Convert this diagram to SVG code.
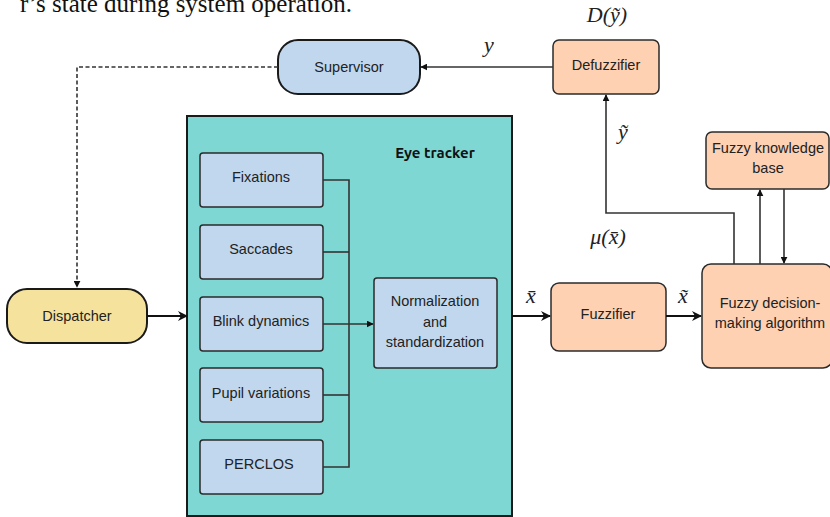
<svg xmlns="http://www.w3.org/2000/svg" width="830" height="517" viewBox="0 0 830 517">
  <defs>
    <marker id="arrow" viewBox="0 0 10 10" refX="9" refY="5" markerWidth="7" markerHeight="7" markerUnits="userSpaceOnUse" orient="auto">
      <path d="M0,0 L10,5 L0,10 Z" fill="#111"/>
    </marker>
    <marker id="arrowBig" viewBox="0 0 10 10" refX="9" refY="5" markerWidth="10" markerHeight="10" markerUnits="userSpaceOnUse" orient="auto">
      <path d="M0,0 L10,5 L0,10 L3,5 Z" fill="#111"/>
    </marker>
  </defs>
  <style>
    .lbl { font-family: "Liberation Sans", Arial, sans-serif; font-size: 14.5px; fill: #222; text-anchor: middle; }
    .math { font-family: "Liberation Serif", "Times New Roman", serif; font-style: italic; font-size: 22px; fill: #222; text-anchor: middle; }
    .blue { fill: #c1d7ee; stroke: #2b2b2b; stroke-width: 1.5; }
    .peach { fill: #fdd1b2; stroke: #2b2b2b; stroke-width: 1.5; }
    .yellow { fill: #f5e29c; stroke: #1a1a1a; stroke-width: 2; }
    .term { fill: #c1d7ee; stroke: #1a1a1a; stroke-width: 2; }
    .wire { fill: none; stroke: #333; stroke-width: 1.6; }
    .thick { fill: none; stroke: #111; stroke-width: 2; }
  </style>

  <rect width="830" height="517" fill="#ffffff"/>

  <!-- running text above the figure -->
  <text x="352" y="12" font-family="Liberation Serif, 'Times New Roman', serif" font-size="25" fill="#111" text-anchor="end">r’s state during system operation.</text>

  <!-- eye tracker container -->
  <g id="eye-tracker">
    <rect x="187" y="116" width="325" height="400" fill="#7ed7d3" stroke="#1a1a1a" stroke-width="2"/>
    <text x="435" y="158" font-family="Ubuntu, 'DejaVu Sans', sans-serif" font-weight="bold" font-size="15" fill="#111" text-anchor="middle">Eye tracker</text>
  </g>

  <g id="supervisor">
    <rect class="term" x="278" y="40" width="142" height="54" rx="20"/>
    <text class="lbl" x="349" y="72">Supervisor</text>
  </g>

  <g id="dispatcher">
    <rect class="yellow" x="7" y="289" width="140" height="54" rx="20"/>
    <text class="lbl" x="77" y="321">Dispatcher</text>
  </g>

  <g id="fixations">
    <rect class="blue" x="200" y="153" width="123" height="54" rx="3"/>
    <text class="lbl" x="261" y="182">Fixations</text>
  </g>
  <g id="saccades">
    <rect class="blue" x="200" y="225" width="123" height="54" rx="3"/>
    <text class="lbl" x="261" y="254">Saccades</text>
  </g>
  <g id="blink-dynamics">
    <rect class="blue" x="200" y="297" width="123" height="54" rx="3"/>
    <text class="lbl" x="261" y="326">Blink dynamics</text>
  </g>
  <g id="pupil-variations">
    <rect class="blue" x="200" y="368" width="123" height="54" rx="3"/>
    <text class="lbl" x="261" y="398">Pupil variations</text>
  </g>
  <g id="perclos">
    <rect class="blue" x="200" y="440" width="123" height="54" rx="3"/>
    <text class="lbl" x="259" y="469">PERCLOS</text>
  </g>

  <g id="normalization">
    <rect class="blue" x="374" y="278" width="123" height="90" rx="3"/>
    <text class="lbl" x="435" y="306">Normalization</text>
    <text class="lbl" x="435" y="327">and</text>
    <text class="lbl" x="435" y="347">standardization</text>
  </g>

  <g id="fuzzifier">
    <rect class="peach" x="551" y="283" width="115" height="68" rx="8"/>
    <text class="lbl" x="608" y="319">Fuzzifier</text>
  </g>

  <g id="defuzzifier">
    <rect class="peach" x="553" y="40" width="106" height="54" rx="6"/>
    <text class="lbl" x="606" y="70">Defuzzifier</text>
  </g>

  <g id="knowledge-base">
    <rect class="peach" x="706" y="132" width="123" height="57" rx="6"/>
    <text class="lbl" x="768" y="153">Fuzzy knowledge</text>
    <text class="lbl" x="768" y="173">base</text>
  </g>

  <g id="decision">
    <rect class="peach" x="702" y="264" width="130" height="104" rx="9"/>
    <text class="lbl" x="770" y="308">Fuzzy decision-</text>
    <text class="lbl" x="770" y="328">making algorithm</text>
  </g>

  <g id="connectors">
    <!-- supervisor to dispatcher (dashed) -->
    <path class="wire" d="M278,67 H77 V287" stroke-dasharray="4,2.5" marker-end="url(#arrow)"/>
    <!-- dispatcher into eye tracker -->
    <path class="thick" d="M147,316 H187" marker-end="url(#arrowBig)"/>
    <!-- feature bus -->
    <path class="wire" d="M323,180 H349 V467 H323"/>
    <path class="wire" d="M323,252 H349"/>
    <path class="wire" d="M323,395 H349"/>
    <path class="wire" d="M323,324 H373" marker-end="url(#arrow)"/>
    <!-- eye tracker to fuzzifier -->
    <path class="thick" d="M512,316 H550" marker-end="url(#arrowBig)"/>
    <!-- fuzzifier to decision -->
    <path class="thick" d="M666,316 H701" marker-end="url(#arrowBig)"/>
    <!-- decision to knowledge base and back -->
    <path class="wire" d="M760,264 V190" marker-end="url(#arrow)"/>
    <path class="wire" d="M784,189 V263" marker-end="url(#arrow)"/>
    <!-- decision output to defuzzifier -->
    <path class="wire" d="M734,264 V213 H606 V95" marker-end="url(#arrow)"/>
    <!-- defuzzifier to supervisor -->
    <path class="wire" d="M553,67 H421" marker-end="url(#arrow)"/>
  </g>

  <!-- signal labels -->
  <g id="signal-labels">
    <text class="math" x="607" y="22">D(ỹ)</text>
    <text class="math" x="489" y="52">y</text>
    <text class="math" x="623" y="139">ỹ</text>
    <text class="math" x="608" y="244">μ(x̄)</text>
    <text class="math" x="531" y="303">x̄</text>
    <text class="math" x="683" y="303">x̃</text>
  </g>
</svg>
